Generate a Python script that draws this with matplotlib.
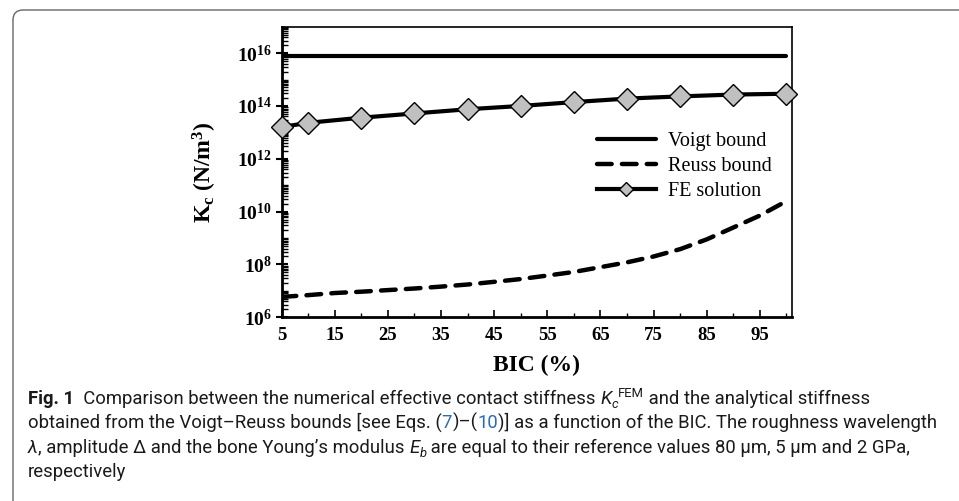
import math
import matplotlib
matplotlib.use("Agg")
import matplotlib.pyplot as plt
import matplotlib.ticker as ticker
from matplotlib.patches import FancyBboxPatch
from matplotlib.transforms import IdentityTransform

# data
bic_fe = [5, 10, 20, 30, 40, 50, 60, 70, 80, 90, 100]
k_fe = [1.6e13, 2.3e13, 3.6e13, 5.2e13, 7.5e13, 1.0e14, 1.4e14, 1.9e14, 2.3e14, 2.7e14, 2.9e14]

bic_bounds = [5, 10, 15, 20, 25, 30, 35, 40, 45, 50, 55, 60, 65, 70, 75, 80, 85, 90, 95, 100]
k_voigt = [8.0e15] * len(bic_bounds)
k_reuss = [5.9e6, 6.9e6, 8.3e6, 9.3e6, 1.07e7, 1.23e7, 1.45e7, 1.74e7, 2.2e7, 2.8e7,
           3.8e7, 5.2e7, 7.9e7, 1.2e8, 2.0e8, 3.8e8, 8.9e8, 2.5e9, 7.1e9, 2.5e10]

x_major = [5, 15, 25, 35, 45, 55, 65, 75, 85, 95]
x_minor = [10, 20, 30, 40, 50, 60, 70, 80, 90, 100]
y_major = [1e6, 1e8, 1e10, 1e12, 1e14, 1e16]

legend_labels = ["Voigt bound", "Reuss bound", "FE solution"]

SERIF = "Liberation Serif"
CAP = "Roboto"

plt.rcParams["mathtext.fontset"] = "custom"
plt.rcParams["mathtext.rm"] = "Liberation Serif:bold"
plt.rcParams["mathtext.it"] = "Liberation Serif:bold"
plt.rcParams["mathtext.bf"] = "Liberation Serif:bold"

fig = plt.figure(figsize=(9.59, 5.01), dpi=100)

# rounded page box around figure + caption
box = FancyBboxPatch((0.13, -1.0), 10.0, 5.91, boxstyle="round,pad=0,rounding_size=0.1",
                     transform=fig.dpi_scale_trans, facecolor="none", edgecolor="#666666", lw=1.0)
fig.patches.append(box)

ax = fig.add_axes([0.2937, 0.3667, 0.5319, 0.58])

ax.plot(bic_bounds, k_voigt, color="black", lw=3.0, solid_capstyle="round", label=legend_labels[0])
ax.plot(bic_bounds, k_reuss, color="black", lw=3.2, dashes=(3.3, 2.3), dash_capstyle="round",
        label=legend_labels[1])
ax.plot(bic_fe, k_fe, color="black", lw=3.0, marker="D", markersize=11, markerfacecolor="#c0c0c0",
        markeredgecolor="black", markeredgewidth=1.0, label=legend_labels[2], clip_on=False, zorder=5)

ax.set_yscale("log")
ax.set_xlim(5, 101)
ax.set_ylim(1e6, 1e17)

ax.xaxis.set_major_locator(ticker.FixedLocator(x_major))
ax.xaxis.set_minor_locator(ticker.FixedLocator(x_minor))
ax.yaxis.set_major_locator(ticker.FixedLocator(y_major))
ax.yaxis.set_minor_locator(ticker.LogLocator(base=10, subs=range(1, 10), numticks=40))
ax.yaxis.set_major_formatter(ticker.FuncFormatter(lambda v, p: r"$10^{%d}$" % round(math.log10(v))))
ax.yaxis.set_minor_formatter(ticker.NullFormatter())

ax.tick_params(axis="x", which="major", direction="in", length=5, width=1.2, top=False, pad=7)
ax.tick_params(axis="x", which="minor", direction="in", length=3, width=1.0, top=False)
ax.tick_params(axis="y", which="major", direction="inout", length=8, width=1.5, right=False, pad=3)
ax.tick_params(axis="y", which="minor", direction="in", length=4, width=1.0, right=False)

for lab in ax.get_xticklabels():
    lab.set_fontfamily(SERIF)
    lab.set_fontweight("bold")
    lab.set_fontsize(13.5)
for lab in ax.get_yticklabels():
    lab.set_fontsize(14)

for sp in ax.spines.values():
    sp.set_linewidth(1.2)
ax.spines["bottom"].set_linewidth(2.0)
ax.spines["left"].set_linewidth(2.0)

ax.set_xlabel("BIC (%)", fontfamily=SERIF, fontweight="bold", fontsize=17, labelpad=8)
ax.set_ylabel(r"K$_\mathrm{c}$ (N/m$^3$)", fontfamily=SERIF, fontweight="bold", fontsize=17, labelpad=13)

leg = ax.legend(loc="upper left", bbox_to_anchor=(0.583, 0.70), frameon=False, handlelength=2.9,
                labelspacing=0.3, handletextpad=0.6, markerscale=0.65,
                prop={"family": SERIF, "size": 14.5})

# caption, drawn piece by piece so the links and italics can be styled
fig.canvas.draw()
renderer = fig.canvas.get_renderer()
BLUE = "#2b6cb5"

line2 = "obtained from the Voigt\u2013Reuss bounds [see Eqs. (7)\u2013(10)] as a function of the BIC. The roughness wavelength"
probe = fig.text(0, 0, line2, fontfamily=CAP, fontsize=10)
w10 = probe.get_window_extent(renderer).width
probe.remove()
CS = 10 * (938 - 28) / w10


def put_line(x0, ybase, segs):
    x = x0
    for s, kw in segs:
        kw = dict(kw)
        dy = kw.pop("dy", 0)
        kw.setdefault("fontfamily", CAP)
        kw.setdefault("fontsize", CS)
        kw.setdefault("color", "#1a1a1a")
        t = fig.text(x, 501 - ybase + dy, s, transform=IdentityTransform(), va="baseline", ha="left", **kw)
        x = t.get_window_extent(renderer).x1


put_line(28, 404, [
    ("Fig. 1", {"fontweight": "bold"}),
    ("  Comparison between the numerical effective contact stiffness ", {}),
    ("K", {"fontstyle": "italic"}),
    ("c", {"fontstyle": "italic", "fontsize": CS * 0.7, "dy": -4}),
    ("FEM", {"fontsize": CS * 0.7, "dy": 7}),
    (" and the analytical stiffness", {}),
])
put_line(28, 428, [
    ("obtained from the Voigt\u2013Reuss bounds [see Eqs. (", {}),
    ("7", {"color": BLUE}),
    (")\u2013(", {}),
    ("10", {"color": BLUE}),
    (")] as a function of the BIC. The roughness wavelength", {}),
])
put_line(28, 453, [
    ("\u03bb", {"fontstyle": "italic"}),
    (", amplitude \u0394 and the bone Young\u2019s modulus ", {}),
    ("E", {"fontstyle": "italic"}),
    ("b", {"fontstyle": "italic", "fontsize": CS * 0.7, "dy": -4}),
    (" are equal to their reference values 80 \u00b5m, 5 \u00b5m and 2 GPa,", {}),
])
put_line(28, 477, [("respectively", {})])

fig.savefig("out.png", dpi=100)
